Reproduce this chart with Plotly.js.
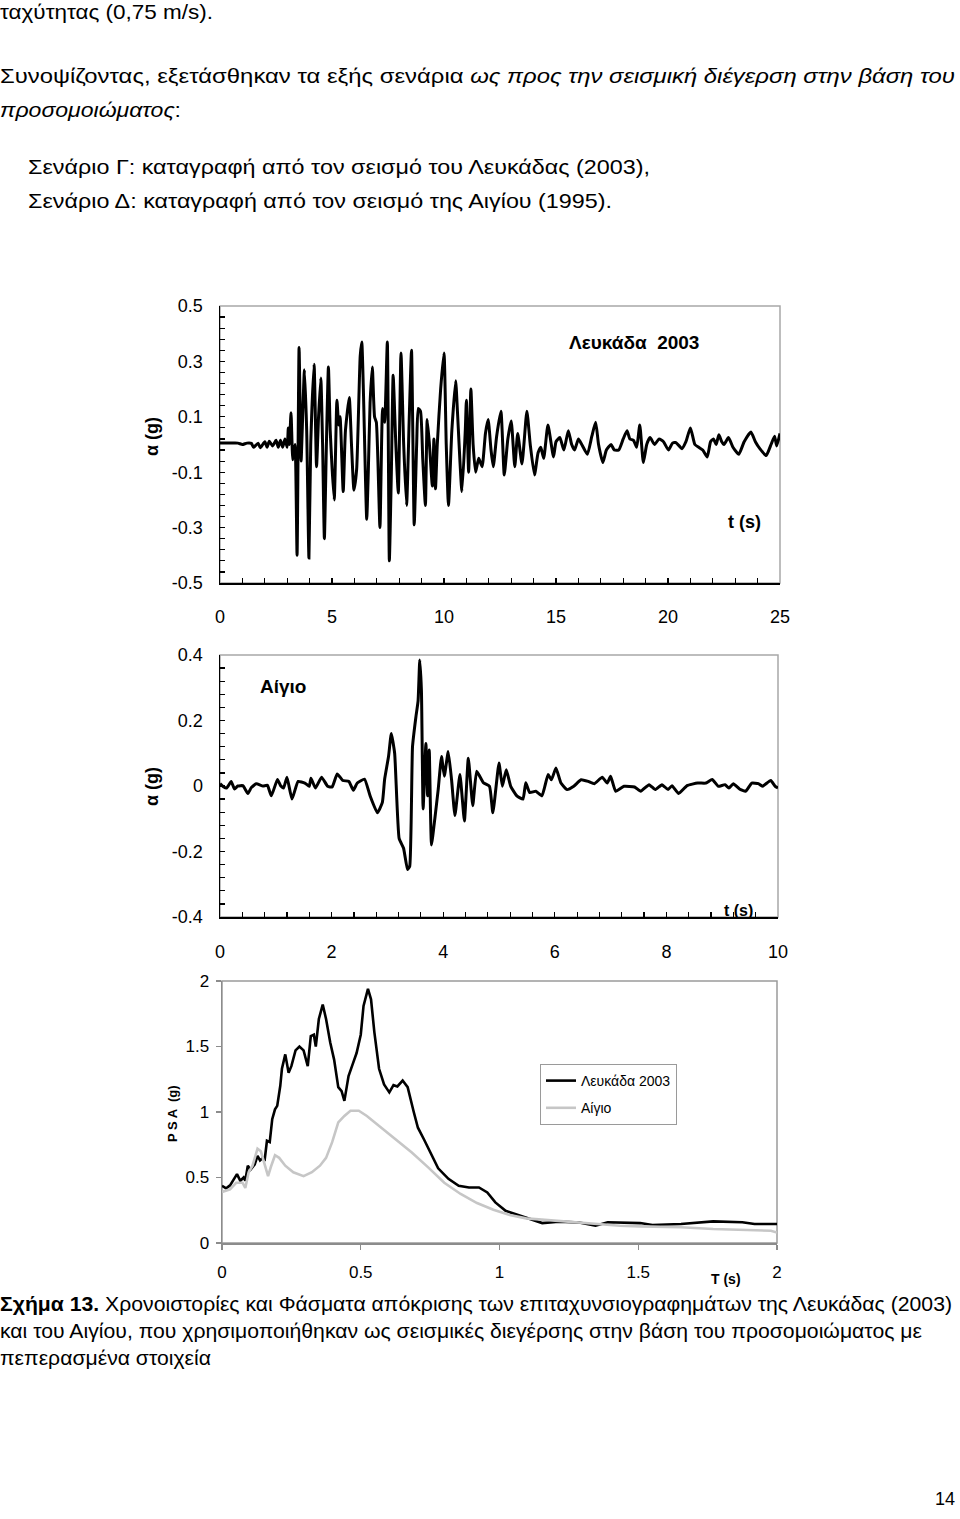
<!DOCTYPE html>
<html><head><meta charset="utf-8">
<script src="https://cdn.plot.ly/plotly-3.0.1.min.js"></script>
<style>
html,body{margin:0;padding:0;background:#fff;width:960px;height:1519px;overflow:hidden;}
#chart{position:absolute;left:0;top:0;width:960px;height:1519px;}
.ln{position:absolute;white-space:nowrap;font-family:"Liberation Sans Narrow","Liberation Sans",Arial,sans-serif;color:#000;transform-origin:0 0;line-height:1;font-size:21px;}
.cap{font-size:20px;}
</style></head><body>
<div id="chart"></div>
<div class="ln" data-w="213" style="left:0;top:1px;">ταχύτητας (0,75 m/s).</div>
<div class="ln" data-w="955" style="left:0;top:65px;">Συνοψίζοντας, εξετάσθηκαν τα εξής σενάρια <i>ως προς την σεισμική διέγερση στην βάση του</i></div>
<div class="ln" data-w="181" style="left:0;top:99px;"><i>προσομοιώματος</i>:</div>
<div class="ln" data-w="622" style="left:28px;top:156px;">Σενάριο Γ: καταγραφή από τον σεισμό του Λευκάδας (2003),</div>
<div class="ln" data-w="584" style="left:28px;top:190px;">Σενάριο Δ: καταγραφή από τον σεισμό της Αιγίου (1995).</div>
<div class="ln cap" data-w="952" style="left:0;top:1294px;"><b>Σχήμα 13.</b> Χρονοιστορίες και Φάσματα απόκρισης των επιταχυνσιογραφημάτων της Λευκάδας (2003)</div>
<div class="ln cap" data-w="922" style="left:0;top:1321px;">και του Αιγίου, που χρησιμοποιήθηκαν ως σεισμικές διεγέρσης στην βάση του προσομοιώματος με</div>
<div class="ln cap" data-w="211" style="left:0;top:1348px;">πεπερασμένα στοιχεία</div>
<div class="ln" style="left:935px;top:1490px;font-size:18px;font-family:'Liberation Sans',Arial,sans-serif;">14</div>
<script>
// ---------- DATA ----------
// Lefkada 2003 acceleration time history (t in s, a in g)
const lefkadaT = [
 0, 0.4, 0.8, 1.0, 1.2, 1.4, 1.5, 1.7, 1.8, 2.0,
 2.1, 2.2, 2.35, 2.5, 2.6, 2.7, 2.8, 2.9, 3.0, 3.05,
 3.1, 3.17, 3.25, 3.35, 3.44, 3.53, 3.62, 3.67, 3.77, 3.87,
 3.97, 4.05, 4.2, 4.31, 4.4, 4.5, 4.58, 4.66, 4.75, 4.84,
 4.92, 5.0, 5.1, 5.22, 5.3, 5.36, 5.5, 5.6, 5.77, 5.87,
 5.98, 6.1, 6.26, 6.33, 6.4, 6.55, 6.62, 6.7, 6.8, 6.9,
 6.98, 7.14, 7.26, 7.35, 7.47, 7.56, 7.65, 7.73, 7.85, 7.96,
 8.08, 8.2, 8.33, 8.45, 8.55, 8.67, 8.78, 8.85, 8.95, 9.05,
 9.17, 9.25, 9.35, 9.48, 9.55, 9.62, 9.7, 9.85, 10.0, 10.1,
 10.2, 10.35, 10.52, 10.6, 10.8, 10.95, 11.0, 11.1, 11.2, 11.3,
 11.41, 11.55, 11.7, 11.85, 11.97, 12.1, 12.2, 12.35, 12.54, 12.69,
 12.85, 13.0, 13.16, 13.29, 13.48, 13.7, 13.85, 14.04, 14.2, 14.32,
 14.45, 14.64, 14.89, 15.0, 15.17, 15.35, 15.55, 15.7, 15.83, 16.0,
 16.15, 16.4, 16.6, 16.77, 16.9, 17.09, 17.25, 17.46, 17.6, 17.8,
 18.0, 18.17, 18.3, 18.46, 18.6, 18.74, 18.9, 19.05, 19.2, 19.4,
 19.6, 19.8, 20.02, 20.2, 20.34, 20.5, 20.62, 20.8, 21.0, 21.2,
 21.37, 21.55, 21.75, 21.9, 22.03, 22.15, 22.27, 22.4, 22.5, 22.7,
 22.9, 23.16, 23.4, 23.7, 23.9, 24.1, 24.38, 24.6, 24.76, 24.85,
 25.0
];
const lefkadaA = [
 0.005, 0.005, 0.005, 0.0, 0.005, 0.004, -0.01, 0.005, -0.012, 0.01,
 -0.01, 0.012, -0.005, 0.015, -0.01, 0.015, -0.01, 0.02, -0.01, 0.06,
 0.0, 0.115, -0.055, 0.0, -0.40, 0.35, -0.06, 0.05, 0.27, 0.05,
 -0.41, 0.0, 0.29, -0.08, 0.1, 0.24, 0.0, -0.34, 0.0, 0.28,
 0.05, -0.08, -0.2, 0.16, 0.07, 0.1, -0.17, 0.05, 0.17, 0.0,
 -0.165, -0.09, 0.32, 0.37, 0.2, -0.27, -0.1, 0.15, 0.28, 0.1,
 0.08, -0.30, 0.13, 0.08, 0.37, -0.42, -0.1, 0.25, 0.0, -0.175,
 0.33, 0.0, -0.22, 0.1, 0.34, -0.29, 0.0, 0.13, 0.12, -0.05,
 -0.22, 0.09, 0.0, -0.15, 0.02, -0.16, 0.0, 0.2, 0.33, 0.0,
 -0.22, 0.05, 0.23, 0.12, -0.17, 0.05, 0.16, -0.1, 0.2, 0.0,
 -0.1, -0.05, -0.08, 0.04, 0.09, -0.02, -0.08, 0.03, 0.12, -0.11,
 0.02, 0.085, -0.08, 0.04, -0.07, 0.12, 0.0, -0.11, -0.03, -0.01,
 -0.05, 0.07, -0.045, 0.01, 0.025, -0.02, 0.05, 0.0, -0.02, 0.02,
 0.0, -0.035, 0.03, 0.08, 0.0, -0.065, -0.02, 0.0, -0.02, -0.02,
 0.02, 0.05, 0.02, 0.015, -0.01, 0.07, -0.065, 0.0, 0.025, 0.0,
 0.02, 0.01, -0.02, 0.005, 0.007, -0.005, -0.015, 0.01, 0.06, 0.0,
 -0.01, -0.02, -0.045, 0.01, 0.02, 0.0, 0.035, 0.01, 0.0, 0.025,
 -0.01, -0.035, 0.01, 0.045, 0.01, -0.015, -0.04, 0.0, 0.03, -0.005,
 0.04
];
// Aigio 1995 acceleration time history
const aigioT = [
 0, 0.06, 0.12, 0.2, 0.26, 0.32, 0.41, 0.5, 0.56, 0.65,
 0.77, 0.85, 0.92, 1.03, 1.09, 1.14, 1.2, 1.29, 1.4, 1.52,
 1.6, 1.63, 1.71, 1.82, 1.93, 2.01, 2.1, 2.2, 2.31, 2.39,
 2.46, 2.59, 2.69, 2.82, 2.91, 2.95, 3.02, 3.07, 3.13, 3.21,
 3.29, 3.36, 3.4, 3.45, 3.51, 3.55, 3.58, 3.61, 3.64, 3.69,
 3.72, 3.75, 3.79, 3.85, 3.91, 3.97, 4.02, 4.09, 4.15, 4.21,
 4.3, 4.38, 4.45, 4.53, 4.6, 4.72, 4.83, 4.89, 5.0, 5.06,
 5.13, 5.21, 5.32, 5.43, 5.48, 5.55, 5.66, 5.77, 5.88, 5.94,
 6.02, 6.11, 6.22, 6.34, 6.47, 6.6, 6.71, 6.85, 6.94, 7.0,
 7.09, 7.24, 7.43, 7.54, 7.69, 7.8, 7.92, 8.03, 8.1, 8.22,
 8.37, 8.56, 8.71, 8.82, 8.93, 9.05, 9.12, 9.2, 9.31, 9.42,
 9.53, 9.65, 9.72, 9.87, 9.95, 10
];
const aigioA = [
 0.007, -0.002, -0.006, 0.014, -0.009, 0.0, 0.001, -0.023, -0.005, 0.007,
 0.0, 0.002, -0.03, 0.02, 0.0, -0.006, 0.027, -0.04, 0.014, 0.009,
 -0.001, 0.024, -0.006, 0.027, -0.001, -0.003, 0.037, 0.017, 0.014, -0.013,
 0.009, 0.021, -0.03, -0.082, -0.05, 0.02, 0.09, 0.16, 0.10, -0.16,
 -0.19, -0.255, -0.245, 0.12, 0.21, 0.26, 0.385, 0.29, -0.07, 0.13,
 -0.03, 0.11, -0.18, -0.10, -0.011, 0.09, 0.03, 0.105, 0.019, -0.09,
 0.035, -0.107, 0.085, -0.06, 0.045, 0.01, -0.001, -0.082, 0.07, -0.001,
 0.05, -0.001, -0.03, -0.04, 0.01, -0.02, -0.016, -0.03, 0.035, 0.019,
 0.055, 0.009, -0.011, -0.001, 0.019, 0.014, 0.007, 0.027, 0.009, 0.03,
 -0.016, -0.001, -0.003, -0.016, 0.004, -0.011, 0.004, -0.011, 0.001, -0.023,
 0.001, 0.009, 0.009, 0.02, -0.001, 0.004, -0.006, 0.007, -0.009, -0.016,
 0.009, 0.007, -0.001, 0.017, -0.001, -0.006
];
// Pseudo-spectral acceleration (T in s, PSA in g)
const psaLefkadaT = [
 0, 0.015, 0.029, 0.044, 0.054, 0.066, 0.078, 0.084, 0.093, 0.103,
 0.118, 0.128, 0.137, 0.147, 0.154, 0.162, 0.172, 0.181, 0.191, 0.199,
 0.21, 0.216, 0.228, 0.24, 0.25, 0.265, 0.279, 0.294, 0.309, 0.32,
 0.331, 0.338, 0.349, 0.363, 0.375, 0.39, 0.404, 0.419, 0.431, 0.441,
 0.456, 0.471, 0.485, 0.5, 0.51, 0.526, 0.537, 0.549, 0.566, 0.584,
 0.603, 0.618, 0.632, 0.651, 0.669, 0.691, 0.706, 0.728, 0.757, 0.779,
 0.816, 0.853, 0.89, 0.926, 0.956, 0.985, 1.022, 1.066, 1.11, 1.154,
 1.213, 1.287, 1.346, 1.39, 1.507, 1.551, 1.654, 1.77, 1.875, 1.919, 2.0
];
const psaLefkada = [
 0.437, 0.417, 0.44, 0.49, 0.526, 0.475, 0.50, 0.475, 0.59, 0.56,
 0.60, 0.665, 0.63, 0.65, 0.64, 0.78, 0.77, 0.945, 1.02, 1.047,
 1.2, 1.33, 1.44, 1.30, 1.35, 1.47, 1.50, 1.47, 1.35, 1.58,
 1.59, 1.50, 1.71, 1.82, 1.71, 1.53, 1.40, 1.19, 1.16, 1.085,
 1.275, 1.365, 1.45, 1.59, 1.81, 1.94, 1.86, 1.61, 1.33, 1.21,
 1.15, 1.205, 1.195, 1.24, 1.19, 1.0, 0.88, 0.79, 0.665, 0.57,
 0.49, 0.437, 0.424, 0.424, 0.386, 0.31, 0.246, 0.213, 0.183, 0.152,
 0.163, 0.157, 0.132, 0.158, 0.152, 0.137, 0.145, 0.165, 0.158, 0.145, 0.145
];
const psaAigioT = [
 0, 0.029, 0.051, 0.074, 0.084, 0.096, 0.11, 0.128, 0.14, 0.154,
 0.166, 0.176, 0.191, 0.206, 0.228, 0.257, 0.294, 0.324, 0.353, 0.375,
 0.397, 0.419, 0.441, 0.463, 0.493, 0.522, 0.566, 0.625, 0.684, 0.743,
 0.801, 0.86, 0.919, 0.978, 1.037, 1.096, 1.154, 1.213, 1.287, 1.36,
 1.434, 1.507, 1.654, 1.77, 1.86, 1.919, 1.978, 2.0
];
const psaAigio = [
 0.39, 0.41, 0.46, 0.46, 0.42, 0.54, 0.59, 0.72, 0.70, 0.59,
 0.51, 0.58, 0.67, 0.65, 0.59, 0.54, 0.51, 0.54, 0.59, 0.65,
 0.77, 0.92, 0.97, 1.01, 1.01, 0.97, 0.895, 0.79, 0.69, 0.577,
 0.46, 0.374, 0.305, 0.254, 0.213, 0.188, 0.178, 0.17, 0.157, 0.145,
 0.132, 0.127, 0.12, 0.107, 0.1, 0.094, 0.094, 0.08
];
// Tick labels
const x1Ticks = [0, 5, 10, 15, 20, 25];
const x1TickText = ['0', '5', '10', '15', '20', '25'];
const y1Ticks = [-0.5, -0.3, -0.1, 0.1, 0.3, 0.5];
const y1TickText = ['-0.5', '-0.3', '-0.1', '0.1', '0.3', '0.5'];
const x2Ticks = [0, 2, 4, 6, 8, 10];
const x2TickText = ['0', '2', '4', '6', '8', '10'];
const y2Ticks = [-0.4, -0.2, 0, 0.2, 0.4];
const y2TickText = ['-0.4', '-0.2', '0', '0.2', '0.4'];
const x3Ticks = [0, 0.5, 1, 1.5, 2];
const x3TickText = ['0', '0.5', '1', '1.5', '2'];
const y3Ticks = [0, 0.5, 1, 1.5, 2];
const y3TickText = ['0', '0.5', '1', '1.5', '2'];
const seriesNames = ['Λευκάδα 2003', 'Αίγιο'];

// ---------- LAYOUT ----------
const W = 960, H = 1519;
const px = v => v / W;
const py = v => 1 - v / H;
const FONT = '"Liberation Sans", Arial, sans-serif';
const NARROW = '"Liberation Sans Narrow","Liberation Sans",Arial,sans-serif';
const tickFont = {family: FONT, size: 18, color: '#000'};

const traces = [
  {x: lefkadaT, y: lefkadaA, xaxis: 'x', yaxis: 'y', mode: 'lines', line: {color: '#000', width: 3, shape: 'spline', smoothing: 0.5}, showlegend: false},
  {x: aigioT, y: aigioA, xaxis: 'x2', yaxis: 'y2', mode: 'lines', line: {color: '#000', width: 3, shape: 'spline', smoothing: 0.4}, showlegend: false},
  {x: psaLefkadaT, y: psaLefkada, xaxis: 'x3', yaxis: 'y3', mode: 'lines', name: seriesNames[0], legendgroup: 'g1', line: {color: '#000', width: 2.6}},
  {x: psaAigioT, y: psaAigio, xaxis: 'x3', yaxis: 'y3', mode: 'lines', name: seriesNames[1], legendgroup: 'g2', line: {color: '#c6c6c6', width: 2.6}}
];

function timeAx(dom, range, tv, tt, anchor, minorD, tick0, standoff) {
  return {
    domain: dom, range: range, anchor: anchor, showgrid: false, zeroline: false,
    showline: true, linecolor: '#000', linewidth: 1.5,
    tickmode: 'array', tickvals: tv, ticktext: tt,
    ticks: 'inside', ticklen: 5, tickwidth: 1.2, tickcolor: '#000',
    minor: {tickmode: 'linear', tick0: tick0, dtick: minorD, ticks: 'inside', ticklen: 5, tickwidth: 1.2, tickcolor: '#000', showgrid: false},
    tickfont: tickFont, ticklabelstandoff: standoff, fixedrange: true
  };
}
function specAx(dom, range, tv, tt, anchor, standoff) {
  return {
    domain: dom, range: range, anchor: anchor, showgrid: false, zeroline: false,
    showline: true, linecolor: '#8c8c8c', linewidth: 1.5,
    tickmode: 'array', tickvals: tv, ticktext: tt,
    ticks: 'outside', ticklen: 5, tickwidth: 1.2, tickcolor: '#8c8c8c',
    tickfont: {family: FONT, size: 17, color: '#000'}, ticklabelstandoff: standoff, fixedrange: true
  };
}
function note(x, y, text, size, family, angle) {
  return {xref: 'paper', yref: 'paper', x: px(x), y: py(y), xanchor: 'center', yanchor: 'middle',
          text: text, textangle: angle || 0, showarrow: false, font: {family: family, size: size, color: '#000'}};
}

const layout = {
  width: W, height: H, margin: {l: 0, r: 0, t: 0, b: 0},
  paper_bgcolor: 'rgba(0,0,0,0)', plot_bgcolor: '#fff',
  showlegend: true,
  xaxis: timeAx([px(220), px(780)], [0, 25], x1Ticks, x1TickText, 'y', 1, 0, 17),
  yaxis: timeAx([py(583), py(306)], [-0.5, 0.5], y1Ticks, y1TickText, 'x', 0.04, -0.5, 12),
  xaxis2: timeAx([px(220), px(778)], [0, 10], x2Ticks, x2TickText, 'y2', 0.4, 0, 18),
  yaxis2: timeAx([py(917), py(655)], [-0.4, 0.4], y2Ticks, y2TickText, 'x2', 0.04, -0.4, 12),
  xaxis3: specAx([px(222), px(777)], [0, 2], x3Ticks, x3TickText, 'y3', 8),
  yaxis3: specAx([py(1243), py(981)], [0, 2], y3Ticks, y3TickText, 'x3', 3),
  legend: {
    x: px(540), y: py(1064), xanchor: 'left', yanchor: 'top',
    bgcolor: '#fff', bordercolor: '#9a9a9a', borderwidth: 1,
    font: {family: NARROW, size: 14, color: '#000'},
    traceorder: 'grouped', tracegroupgap: 6, itemwidth: 30
  },
  shapes: [
    {type: 'rect', xref: 'x domain', yref: 'y domain', x0: 0, x1: 1, y0: 0, y1: 1, line: {color: '#a8a8a8', width: 1.5}, layer: 'below'},
    {type: 'rect', xref: 'x2 domain', yref: 'y2 domain', x0: 0, x1: 1, y0: 0, y1: 1, line: {color: '#a8a8a8', width: 1.5}, layer: 'below'},
    {type: 'rect', xref: 'x3 domain', yref: 'y3 domain', x0: 0, x1: 1, y0: 0, y1: 1, line: {color: '#9a9a9a', width: 1.5}, layer: 'below'}
  ],
  annotations: [
    note(152, 437, '<b>α (g)</b>', 18, FONT, -90),
    note(634, 342, '<b>Λευκάδα  2003</b>', 19, NARROW),
    note(744, 522, '<b>t (s)</b>', 18, FONT),
    note(152, 787, '<b>α (g)</b>', 18, FONT, -90),
    note(283, 687, '<b>Αίγιο</b>', 19, NARROW),
    note(738, 911, '<b>t (s)</b>', 16, FONT),
    note(172, 1114, '<b>P S A  (g)</b>', 13, FONT, -90),
    note(726, 1279, '<b>T (s)</b>', 14, FONT)
  ]
};

Plotly.newPlot('chart', traces, layout, {staticPlot: true, displayModeBar: false});

// fit each text line to its measured width in the page
document.querySelectorAll('.ln[data-w]').forEach(el => {
  const nat = el.getBoundingClientRect().width;
  const target = parseFloat(el.getAttribute('data-w'));
  if (nat > 0) el.style.transform = 'scaleX(' + (target / nat) + ')';
});
</script>
</body></html>
